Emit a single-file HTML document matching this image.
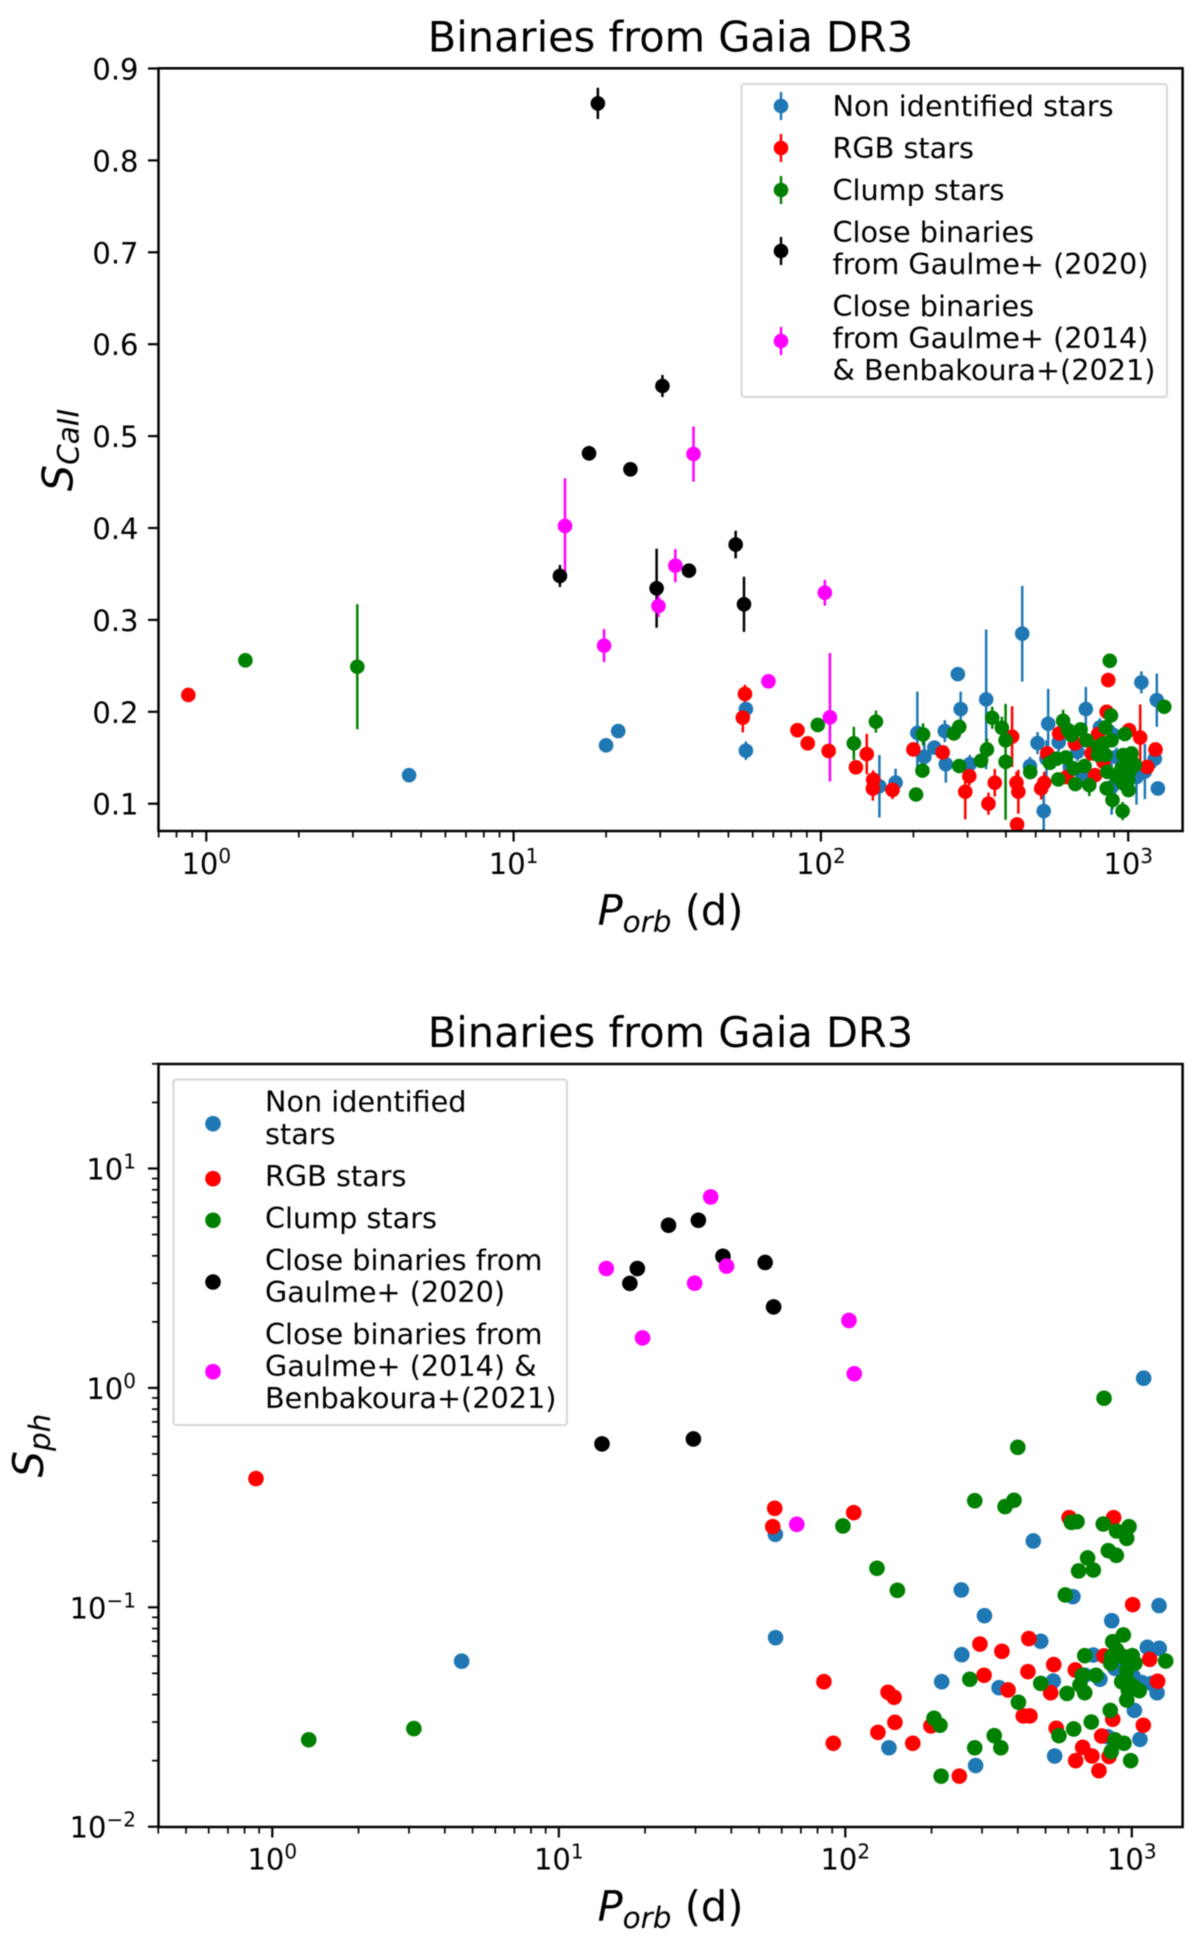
<!DOCTYPE html>
<html lang="en">
<head>
<meta charset="utf-8">
<title>Binaries from Gaia DR3</title>
<style>
html,body{margin:0;padding:0;background:#fff;}
body{width:1200px;height:1936px;overflow:hidden;}
svg{display:block;filter:blur(0.45px);}
text{font-family:"DejaVu Sans","Liberation Sans",sans-serif;fill:#000;}
.title{font-size:41.5px;text-anchor:middle;}
.leg{font-size:28.7px;}
.axt{font-size:41.5px;font-style:italic;}
.axt .up{font-style:normal;}
.sub{font-size:29.5px;}
.tick{font-size:29px;}
</style>
</head>
<body>
<svg id="chart" xmlns="http://www.w3.org/2000/svg" width="1200" height="1936" viewBox="0 0 1200 1936">
  <defs>
    <clipPath id="clip-top"><rect x="158.5" y="68.3" width="1024.1" height="762.7"/></clipPath>
    <clipPath id="clip-bottom"><rect x="158.5" y="1064" width="1024.1" height="763"/></clipPath>
  </defs>
  <rect x="0" y="0" width="1200" height="1936" fill="#fff"/>
  <g id="top-marks" clip-path="url(#clip-top)"></g>
  <g id="top-plot"></g>
  <g id="bottom-marks" clip-path="url(#clip-bottom)"></g>
  <g id="bottom-plot"></g>

  <text class="title" x="670.5" y="51.5">Binaries from Gaia DR3</text>
  <text class="axt" x="670.5" y="925" text-anchor="middle">P<tspan class="sub" dy="7">orb</tspan><tspan class="up" dy="-7"> (d)</tspan></text>
  <text class="axt" transform="translate(72.7,450) rotate(-90)" text-anchor="middle">S<tspan class="sub" dy="6">CaII</tspan></text>

  <text class="title" x="670.5" y="1047">Binaries from Gaia DR3</text>
  <text class="axt" x="670.5" y="1921" text-anchor="middle">P<tspan class="sub" dy="7">orb</tspan><tspan class="up" dy="-7"> (d)</tspan></text>
  <text class="axt" transform="translate(43,1445.5) rotate(-90)" text-anchor="middle">S<tspan class="sub" dy="7">ph</tspan></text>

  <g>
    <rect x="741.5" y="84" width="425.5" height="313" rx="3" fill="#fff" fill-opacity="0.8" stroke="#d6d6d6" stroke-width="2"/>
    <g>
      <line x1="781" x2="781" y1="92" y2="120" stroke="#1f77b4" stroke-width="2.5"/><circle cx="781" cy="106" r="7.3" fill="#1f77b4"/>
      <text class="leg" x="832.5" y="116">Non identified stars</text>
    </g>
    <g>
      <line x1="781" x2="781" y1="134" y2="162" stroke="#ff0000" stroke-width="2.5"/><circle cx="781" cy="148" r="7.3" fill="#ff0000"/>
      <text class="leg" x="832.5" y="158">RGB stars</text>
    </g>
    <g>
      <line x1="781" x2="781" y1="176" y2="204" stroke="#008000" stroke-width="2.5"/><circle cx="781" cy="190" r="7.3" fill="#008000"/>
      <text class="leg" x="832.5" y="200">Clump stars</text>
    </g>
    <g>
      <line x1="781" x2="781" y1="237" y2="265" stroke="#000" stroke-width="2.5"/><circle cx="781" cy="251" r="7.3" fill="#000"/>
      <text class="leg" x="832.5" y="242">Close binaries</text>
      <text class="leg" x="832.5" y="274">from Gaulme+ (2020)</text>
    </g>
    <g>
      <line x1="781" x2="781" y1="327" y2="355" stroke="#ff00ff" stroke-width="2.5"/><circle cx="781" cy="341" r="7.3" fill="#ff00ff"/>
      <text class="leg" x="832.5" y="316">Close binaries</text>
      <text class="leg" x="832.5" y="348">from Gaulme+ (2014)</text>
      <text class="leg" x="832.5" y="380">&amp; Benbakoura+(2021)</text>
    </g>
  </g>

  <g>
    <rect x="173.5" y="1079.5" width="393.5" height="345.5" rx="3" fill="#fff" fill-opacity="0.8" stroke="#d6d6d6" stroke-width="2"/>
    <g>
      <circle cx="213" cy="1123.7" r="7.8" fill="#1f77b4"/>
      <text class="leg" x="265" y="1111.7">Non identified</text>
      <text class="leg" x="265" y="1144">stars</text>
    </g>
    <g>
      <circle cx="213" cy="1178.7" r="7.8" fill="#ff0000"/>
      <text class="leg" x="265" y="1186">RGB stars</text>
    </g>
    <g>
      <circle cx="213" cy="1220.3" r="7.8" fill="#008000"/>
      <text class="leg" x="265" y="1228">Clump stars</text>
    </g>
    <g>
      <circle cx="213" cy="1282" r="7.8" fill="#000"/>
      <text class="leg" x="265" y="1270">Close binaries from</text>
      <text class="leg" x="265" y="1302">Gaulme+ (2020)</text>
    </g>
    <g>
      <circle cx="213" cy="1371.7" r="7.8" fill="#ff00ff"/>
      <text class="leg" x="265" y="1344">Close binaries from</text>
      <text class="leg" x="265" y="1376">Gaulme+ (2014) &amp;</text>
      <text class="leg" x="265" y="1408">Benbakoura+(2021)</text>
    </g>
  </g>
</svg>
<script>
// ---- Tick labels ----
const topYTicks = [0.1,0.2,0.3,0.4,0.5,0.6,0.7,0.8,0.9];
const topXExponents = [0,1,2,3];
const bottomXExponents = [0,1,2,3];
const bottomYExponents = [-2,-1,0,1];
const minorMultipliers = [2,3,4,5,6,7,8,9];

// ---- S_CaII panel data ----
const caBlueP = [279,345,452,206,217,234,253,255,285,175,155,305,479,507,531,549,542,594,684,728,646,809,893,819,916,883,1064,1133,1221,1104,1239,1249,1012,963,710,57,57,21.9,20.0,4.57];
const caBlueS = [.241,.2135,.285,.177,.151,.161,.179,.143,.203,.123,.119,.143,.141,.166,.092,.187,.149,.167,.1565,.203,.14,.183,.175,.153,.151,.118,.129,.135,.149,.232,.2127,.1166,.133,.1365,.13,.1577,.203,.179,.1635,.131];
const caBlueErr = [0,.076,.052,.045,.02,0,.012,.02,.019,.015,.034,.01,.01,.012,.03,.038,.02,.01,.01,.024,.01,.01,.01,.01,.01,.03,.03,.03,.01,.012,.029,0,.01,.01,.01,.01,.005,0,0,0];

const caRedP = [56.6,55.7,83.9,90.6,106,130,141,148,147.6,171,200,249,304,295,368,351,419,433,439,435,521,533,545,596,861,851,798,671,760,830,780,631,1007,1094,1227,1153,0.874];
const caRedS = [.2194,.1936,.18,.1657,.1574,.1396,.154,.1262,.1164,.115,.159,.1558,.13,.113,.1228,.1,.173,.1228,.113,.0774,.1166,.1228,.1547,.1764,.2345,.2,.1757,.1656,.1547,.1456,.131,.129,.18,.172,.159,.14,.2183];
const caRedErr = [.01,.016,0,0,0,0,.022,.01,.013,.01,0,0,.01,.03,.015,.012,.033,.012,.024,0,.012,.012,0,0,0,0,0,0,0,0,0,0,0,.036,0,0,.007];

const caGreenP = [1.34,3.10,97.7,128,151,204,214,215,271,282,282,332,347,361,388,399,399,480,556,585,627,592,614,638,654,700,731,665,721,673,747,798,830,883,798,844,844,879,871,855,851,889,959,1002,975,1310,963,1025,988,1038,951,1013,975,939,1000,1051,916,963];
const caGreenS = [.256,.249,.1857,.1657,.1893,.11,.136,.1754,.1764,.1837,.141,.1467,.159,.1935,.1826,.169,.1456,.1344,.1445,.149,.1503,.1264,.1902,.18,.1746,.1808,.169,.1384,.141,.1213,.1202,.162,.1656,.169,.153,.153,.183,.196,.2555,.1347,.1166,.104,.092,.1148,.1757,.2055,.153,.1547,.1438,.1438,.1384,.1365,.133,.1275,.1257,.142,.1293,.122];
const caGreenErr = [0,.068,0,.018,.012,0,0,.012,0,0,0,0,.012,.012,.012,.005,.063,0,0,0,0,0,.012,0,0,0,0,0,0,0,.012,0,0,0,0,0,0,0,0,0,0,.01,.01,0,0,0,0,0,0,0,0,0,0,0,0,0,0,0];

const caBlackP = [18.8,17.6,30.5,24.0,14.15,29.2,37.2,56.2,52.8];
const caBlackS = [.862,.4813,.5545,.4639,.3478,.3344,.3536,.317,.382];
const caBlackErr = [.017,.008,.012,.003,.012,.043,.003,.03,.015];

const caMagentaP = [38.5,14.7,33.6,29.6,19.7,103,67.5,107];
const caMagentaS = [.4805,.4022,.359,.3151,.272,.3296,.2332,.194];
const caMagentaErr = [.03,.052,.018,.012,.018,.014,.002,.07];

// ---- S_ph panel data ----
const phBlueP = [57,57.1,453,623,254,306,851,1245,255,481,217,344,532,734,1133,1247,686,774,873,1012,1083,1173,1225,1021,824,1068,142,538,285,4.58,1100];
const phBlueS = [.215,.0727,.2006,.1118,.12,.0916,.0869,.1018,.0608,.07,.0458,.043,.0461,.0606,.0657,.065,.049,.047,.0527,.0483,.0454,.045,.0408,.0339,.0257,.025,.0229,.021,.019,.0568,1.107];

const phRedP = [56.7,55.8,107,604,864,1007,295,352,437,84.2,534,434,305,635,800,1154,1231,370,521,141,148,149,130,90.8,172,199,418,441,858,1097,545,785,674,726,637,833,768,250,0.877];
const phRedS = [.2826,.2332,.27,.2562,.2562,.1028,.068,.063,.072,.0458,.0548,.0509,.049,.0518,.06,.0579,.046,.042,.0408,.041,.0389,.0299,.0269,.024,.024,.0288,.032,.032,.0309,.029,.0281,.0259,.023,.021,.02,.0209,.018,.017,.386];

const phGreenP = [800,400,283,388,361,615,644,795,885,978,960,98.1,129,152,828,883,701,734,652,586,934,858,885,685,850,1004,1026,844,1313,934,960,672,750,922,972,659,1012,1062,972,685,594,481,272,960,402,841,722,627,557,204,214,331,349,283,216,873,939,848,991,1.34,3.12];
const phGreenS = [.897,.536,.306,.3074,.2877,.2439,.2457,.2397,.2227,.2332,.2063,.2348,.1506,.1195,.1812,.1725,.1678,.1479,.1464,.1138,.0748,.0697,.0639,.0602,.0596,.0602,.0556,.0556,.0569,.0596,.0518,.049,.049,.0458,.0458,.0443,.0435,.0417,.042,.0408,.0405,.045,.047,.0378,.0369,.0339,.03,.0279,.026,.0312,.029,.026,.0229,.0229,.017,.0249,.024,.022,.02,.0249,.028];

const phBlackP = [14.15,17.7,18.8,24.15,30.7,29.5,37.4,52.5,56.2];
const phBlackS = [.5555,2.995,3.5,5.51,5.81,.585,3.98,3.73,2.34];

const phMagentaP = [33.9,14.65,38.5,29.8,19.6,103,107.5,67.7];
const phMagentaS = [7.42,3.5,3.59,3.0,1.69,2.03,1.16,.2388];

const NS = 'http://www.w3.org/2000/svg';
const SPINE_LEFT = 158.5, SPINE_RIGHT = 1182.6;

// Axis functions
const xTop = p => 206.3 + 307.3 * Math.log10(p);
const yTop = s => 803.7 - 919 * (s - 0.1);
const xBot = p => 272.3 + 286.5 * Math.log10(p);
const yBot = s => 1607.3 - 219.4 * (Math.log10(s) + 1);

function mk(parent, tag, attrs) {
  const el = document.createElementNS(NS, tag);
  for (const k in attrs) el.setAttribute(k, attrs[k]);
  parent.appendChild(el);
  return el;
}

function expLabel(parent, name, x, y, anchor, exp) {
  const t = mk(parent, 'text', {class:'tick', x:x, y:y, 'text-anchor':anchor});
  
  
  const a = mk(t, 'tspan', {});
  a.textContent = '10';
  const b = mk(t, 'tspan', {dy:-11, 'font-size':'20px'});
  b.textContent = String(exp).replace('-', '\u2212');
}

function tickLine(parent, name, x1, y1, x2, y2, w) {
  const l = mk(parent, 'line', {x1:x1, y1:y1, x2:x2, y2:y2, stroke:'#000', 'stroke-width':w});
  
  
}

function errorBars(parent, name, xs, ys, errs, color, xf, yf) {
  xs.forEach((p, i) => {
    if (!errs[i]) return;
    const l = mk(parent, 'line', {x1:xf(p), x2:xf(p), y1:yf(ys[i] + errs[i]), y2:yf(ys[i] - errs[i]), stroke:color, 'stroke-width':2.5});
    
    
  });
}

function points(parent, name, xs, ys, color, r, xf, yf) {
  xs.forEach((p, i) => {
    const c = mk(parent, 'circle', {cx:xf(p), cy:yf(ys[i]), r:r, fill:color});
    
    
  });
}

function xAxis(g, xf, yAxis, exps, labelY, minP, maxP) {
  for (let e = -1; e <= 3; e++) {
    minorMultipliers.concat([1]).forEach(m => {
      const p = m * Math.pow(10, e);
      if (p < minP * 0.999 || p > maxP) return;
      if (m === 1 && exps.indexOf(e) >= 0) return;
      tickLine(g, 'x-minor-tick', xf(p), yAxis, xf(p), yAxis + 6.5, 1.7);
    });
  }
  exps.forEach(e => {
    const x = xf(Math.pow(10, e));
    tickLine(g, 'x-major-tick', x, yAxis, x, yAxis + 10.5, 2.2);
    expLabel(g, 'x-tick-label', x, labelY, 'middle', e);
  });
}

function frame(g, top, bottom) {
  const r = mk(g, 'rect', {x:SPINE_LEFT, y:top, width:SPINE_RIGHT - SPINE_LEFT, height:bottom - top, fill:'none', stroke:'#000', 'stroke-width':2.5});
  
  
}

// ---- Top panel ----
const mt = document.getElementById('top-marks');
const gt = document.getElementById('top-plot');
errorBars(mt, 'non-identified-error-bar', caBlueP, caBlueS, caBlueErr, '#1f77b4', xTop, yTop);
errorBars(mt, 'rgb-error-bar', caRedP, caRedS, caRedErr, '#ff0000', xTop, yTop);
errorBars(mt, 'clump-error-bar', caGreenP, caGreenS, caGreenErr, '#008000', xTop, yTop);
errorBars(mt, 'close-binary-2020-error-bar', caBlackP, caBlackS, caBlackErr, '#000', xTop, yTop);
errorBars(mt, 'close-binary-2014-error-bar', caMagentaP, caMagentaS, caMagentaErr, '#ff00ff', xTop, yTop);
points(mt, 'non-identified-point', caBlueP, caBlueS, '#1f77b4', 7.3, xTop, yTop);
points(mt, 'rgb-point', caRedP, caRedS, '#ff0000', 7.3, xTop, yTop);
points(mt, 'clump-point', caGreenP, caGreenS, '#008000', 7.3, xTop, yTop);
points(mt, 'close-binary-2020-point', caBlackP, caBlackS, '#000', 7.3, xTop, yTop);
points(mt, 'close-binary-2014-point', caMagentaP, caMagentaS, '#ff00ff', 7.3, xTop, yTop);
frame(gt, 68.3, 831);
xAxis(gt, xTop, 831, topXExponents, 874, 0.698, 1500);
topYTicks.forEach(v => {
  const y = yTop(v);
  tickLine(gt, 'y-major-tick', SPINE_LEFT - 10.5, y, SPINE_LEFT, y, 2.2);
  const t = mk(gt, 'text', {class:'tick', x:138.5, y:y + 11, 'text-anchor':'end'});
  
  
  t.textContent = v.toFixed(1);
});

// ---- Bottom panel ----
const mb = document.getElementById('bottom-marks');
const gb = document.getElementById('bottom-plot');
points(mb, 'non-identified-point', phBlueP, phBlueS, '#1f77b4', 7.8, xBot, yBot);
points(mb, 'rgb-point', phRedP, phRedS, '#ff0000', 7.8, xBot, yBot);
points(mb, 'clump-point', phGreenP, phGreenS, '#008000', 7.8, xBot, yBot);
points(mb, 'close-binary-2020-point', phBlackP, phBlackS, '#000', 7.8, xBot, yBot);
points(mb, 'close-binary-2014-point', phMagentaP, phMagentaS, '#ff00ff', 7.8, xBot, yBot);
frame(gb, 1064, 1827);
xAxis(gb, xBot, 1827, bottomXExponents, 1869.5, 0.4, 1500);
for (let e = -2; e <= 1; e++) {
  minorMultipliers.forEach(m => {
    const s = m * Math.pow(10, e);
    if (s > 10 && m > 3) return;
    tickLine(gb, 'y-minor-tick', SPINE_LEFT - 6.5, yBot(s), SPINE_LEFT, yBot(s), 1.7);
  });
}
bottomYExponents.forEach(e => {
  const y = yBot(Math.pow(10, e));
  tickLine(gb, 'y-major-tick', SPINE_LEFT - 10.5, y, SPINE_LEFT, y, 2.2);
  expLabel(gb, 'y-tick-label', 136, y + 11, 'end', e);
});
</script>
</body>
</html>
